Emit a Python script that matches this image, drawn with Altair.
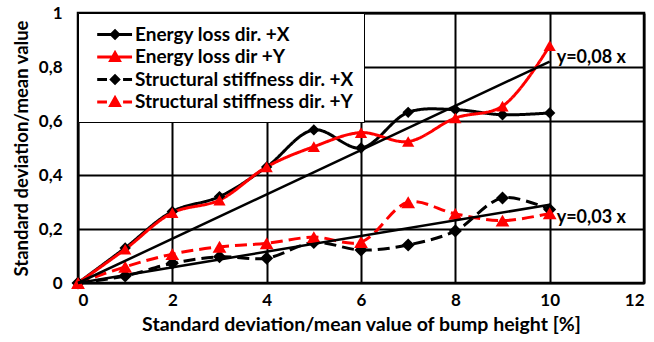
import altair as alt
import pandas as pd

# ---------------- data ----------------
x_vals = [0, 1, 2, 3, 4, 5, 6, 7, 8, 9, 10]
energy_x = [0, 0.13, 0.265, 0.32, 0.43, 0.567, 0.50, 0.632, 0.642, 0.623, 0.63]
energy_y = [0, 0.125, 0.26, 0.307, 0.43, 0.505, 0.557, 0.524, 0.611, 0.655, 0.879]
stiff_x = [0, 0.026, 0.073, 0.097, 0.092, 0.15, 0.122, 0.141, 0.193, 0.315, 0.272]
stiff_y = [0, 0.06, 0.107, 0.134, 0.147, 0.17, 0.152, 0.299, 0.256, 0.231, 0.258]

series_names = ["Energy loss dir. +X", "Energy loss dir +Y",
                "Structural stiffness dir. +X", "Structural stiffness dir. +Y"]
series_values = [energy_x, energy_y, stiff_x, stiff_y]

trend_labels = ["y=0,08 x", "y=0,03 x"]
trend_x = [0, 10]
trend_upper = [0, 0.82]
trend_lower = [0, 0.29]

x_ticks = [0, 2, 4, 6, 8, 10, 12]
y_ticks = [0, 0.2, 0.4, 0.6, 0.8, 1]

x_title = "Standard deviation/mean value of bump height [%]"
y_title = "Standard deviation/mean value"

# ---------------- styles ----------------
series_colors = ["#000000", "#FF0000", "#000000", "#FF0000"]
series_dash = [[1, 0], [1, 0], [12, 6], [12, 6]]
series_width = [3, 3, 3.5, 3.5]
series_shapes = ["diamond", "triangle-up", "diamond", "triangle-up"]
series_sizes = [130, 190, 130, 190]

FONT = "Lato"

# legend symbol paths (line + marker), units of r = sqrt(size)/2
def rect(x0, x1, h=0.12):
    return f"M{x0},{-h}H{x1}V{h}H{x0}Z"

mc = 1.35
diamond = f"M{mc},-0.5L{mc+0.5},0L{mc},0.5L{mc-0.5},0Z"
triangle = f"M{mc},-0.64L{mc+0.6},0.44L{mc-0.6},0.44Z"
solid = rect(-0.2, 2.83)
dashed = rect(-0.2, 0.65) + rect(2.05, 2.83)
legend_paths = [solid + diamond, solid + triangle, dashed + diamond, dashed + triangle]

# ---------------- tables ----------------
rows = []
for name, vals in zip(series_names, series_values):
    for xv, yv in zip(x_vals, vals):
        rows.append({"series": name, "x": xv, "y": yv})
df = pd.DataFrame(rows)

trend_rows = []
for lab, ys in zip(trend_labels, [trend_upper, trend_lower]):
    for xv, yv in zip(trend_x, ys):
        trend_rows.append({"trend": lab, "x": xv, "y": yv})
tdf = pd.DataFrame(trend_rows)
tend = tdf[tdf["x"] == trend_x[-1]]

lbl_expr = "replace(format(datum.value, '~g'), '.', ',')"
xenc = alt.X("x:Q", scale=alt.Scale(domain=[0, 12], nice=False),
             axis=alt.Axis(values=x_ticks, title=x_title, grid=True, ticks=False,
                           domain=False, labelPadding=9, titlePadding=7,
                           titleFontSize=19.5, labelExpr=lbl_expr))
yenc = alt.Y("y:Q", scale=alt.Scale(domain=[0, 1], nice=False),
             axis=alt.Axis(values=y_ticks, title=y_title, grid=True, ticks=False,
                           domain=False, labelPadding=16, titlePadding=7,
                           titleFontSize=18.5, labelExpr=lbl_expr))

color_sc = alt.Scale(domain=series_names, range=series_colors)

lines = alt.Chart(df).mark_line(interpolate="catmull-rom").encode(
    x=xenc, y=yenc,
    color=alt.Color("series:N", scale=color_sc, legend=None),
    strokeDash=alt.StrokeDash("series:N", scale=alt.Scale(domain=series_names, range=series_dash), legend=None),
    strokeWidth=alt.StrokeWidth("series:N", scale=alt.Scale(domain=series_names, range=series_width), legend=None),
)

points = alt.Chart(df).mark_point(filled=True, opacity=1).encode(
    x="x:Q", y="y:Q",
    color=alt.Color("series:N", scale=color_sc, legend=None),
    shape=alt.Shape("series:N", scale=alt.Scale(domain=series_names, range=series_shapes), legend=None),
    size=alt.Size("series:N", scale=alt.Scale(domain=series_names, range=series_sizes), legend=None),
)

trend = alt.Chart(tdf).mark_line(color="black", strokeWidth=2.5).encode(
    x="x:Q", y="y:Q", detail="trend:N")

txt_style = dict(align="left", baseline="middle", font=FONT, fontWeight="bold",
                 fontSize=18, color="black", dx=7)
t_up = alt.Chart(tend[tend["trend"] == trend_labels[0]]).mark_text(dy=-4, **txt_style).encode(
    x="x:Q", y="y:Q", text="trend:N")
t_lo = alt.Chart(tend[tend["trend"] == trend_labels[1]]).mark_text(dy=13, **txt_style).encode(
    x="x:Q", y="y:Q", text="trend:N")

leg = alt.Legend(title=None, orient="top-left", offset=0, padding=10,
                 fillColor="white", strokeColor="black",
                 symbolStrokeWidth=0, symbolOpacity=1, symbolSize=529,
                 labelFont=FONT, labelFontWeight="bold", labelFontSize=19,
                 labelColor="black", labelOffset=24, rowPadding=0.5, labelLimit=400)

legend_layer = alt.Chart(df).mark_point(filled=True, opacity=0, size=529).encode(
    x="x:Q", y="y:Q",
    color=alt.Color("series:N", scale=alt.Scale(domain=series_names, range=series_colors), legend=leg),
    shape=alt.Shape("series:N", scale=alt.Scale(domain=series_names, range=legend_paths), legend=leg),
)

chart = alt.layer(lines, points, trend, t_up, t_lo, legend_layer).resolve_scale(
    color="independent", shape="independent"
).properties(
    width=566, height=270,
    autosize=alt.AutoSizeParams(type="none"),
    padding={"left": 78, "top": 13, "right": 10, "bottom": 59},
).configure_view(
    stroke="black", strokeWidth=2.5
).configure_axis(
    gridColor="black", gridWidth=2, gridOpacity=1,
    labelFont=FONT, labelFontWeight="bold", labelFontSize=17, labelColor="black",
    titleFont=FONT, titleFontWeight="bold", titleColor="black",
)

chart.save("out.html", embed_options={"renderer": "svg", "actions": False})
